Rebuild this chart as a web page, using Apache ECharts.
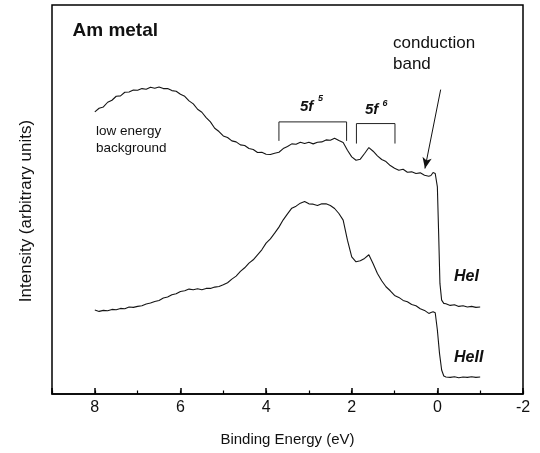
<!DOCTYPE html>
<html>
<head>
<meta charset="utf-8">
<script src="https://cdn.jsdelivr.net/npm/echarts@6/dist/echarts.min.js"></script>
<style>html,body{margin:0;padding:0;background:#fff;}#c{width:540px;height:453px;}</style>
</head>
<body>
<div id="c"></div>
<script>
// Binding energy (eV) samples and intensities (arbitrary units)
var heIEnergy = [8.0,7.9,7.8,7.7,7.6,7.5,7.4,7.3,7.2,7.1,7.0,6.9,6.8,6.7,6.6,6.5,6.4,6.3,6.2,6.1,6.0,5.9,5.8,5.7,5.6,5.5,5.4,5.3,5.2,5.1,5.0,4.9,4.8,4.7,4.6,4.5,4.4,4.3,4.2,4.1,4.0,3.9,3.8,3.7,3.6,3.5,3.4,3.3,3.2,3.1,3.0,2.9,2.8,2.7,2.6,2.5,2.4,2.3,2.2,2.1,2.0,1.9,1.8,1.7,1.6,1.5,1.4,1.3,1.2,1.1,1.0,0.9,0.8,0.7,0.6,0.5,0.4,0.3,0.2,0.15,0.1,0.05,0.0,-0.03,-0.06,-0.1,-0.15,-0.2,-0.3,-0.4,-0.5,-0.6,-0.7,-0.8,-0.9,-1.0];
var heIIntensity = [847,858,862,876,882,894,895,906,907,913,912,917,915,921,918,922,917,917,911,909,900,894,880,871,855,846,830,817,798,788,775,770,760,757,748,746,737,734,725,726,720,719,723,726,737,743,751,750,756,752,756,751,756,757,763,762,768,761,755,732,712,702,705,722,740,729,715,704,698,686,678,672,675,666,667,662,664,657,654,656,665,662,622,482,332,282,272,271,266,268,263,265,261,263,260,261];

var heIIEnergy = [8.0,7.9,7.8,7.7,7.6,7.5,7.4,7.3,7.2,7.1,7.0,6.9,6.8,6.7,6.6,6.5,6.4,6.3,6.2,6.1,6.0,5.9,5.8,5.7,5.6,5.5,5.4,5.3,5.2,5.1,5.0,4.9,4.8,4.7,4.6,4.5,4.4,4.3,4.2,4.1,4.0,3.9,3.8,3.7,3.6,3.5,3.4,3.3,3.2,3.1,3.0,2.9,2.8,2.7,2.6,2.5,2.4,2.3,2.2,2.1,2.0,1.9,1.8,1.7,1.6,1.5,1.4,1.3,1.2,1.1,1.0,0.9,0.8,0.7,0.6,0.5,0.4,0.3,0.2,0.15,0.1,0.05,0.0,-0.05,-0.1,-0.15,-0.2,-0.3,-0.4,-0.5,-0.6,-0.7,-0.8,-0.9,-1.0];
var heIIIntensity = [252,248,251,250,254,253,257,256,261,260,263,265,270,273,278,281,288,291,298,301,308,310,315,313,316,313,317,317,321,323,328,334,345,354,368,379,393,403,418,433,453,466,483,501,523,541,558,564,573,578,571,570,566,571,571,566,557,542,522,462,412,397,400,407,418,391,362,340,322,310,296,290,281,277,269,265,256,251,242,245,247,244,192,122,72,54,51,50,52,49,51,50,52,50,51];

// bracket annotations (energy, intensity)
var bracket5f5Energy = [3.70,3.70,2.12,2.12];
var bracket5f5Level  = [760,817,817,760];
var bracket5f6Energy = [1.89,1.89,0.99,0.99];
var bracket5f6Level  = [752,812,812,752];
// arrow pointing at conduction band (start, end)
var arrowEnergy = [-0.077, 0.29];
var arrowLevel  = [914, 677];

// axis ticks
var xMin = -2, xMax = 9, xMajor = 2, xMinor = 1;

function pairs(xs, ys){ var out=[]; for(var i=0;i<xs.length;i++){ out.push([xs[i], ys[i]]); } return out; }

var FONT = "'Liberation Sans', Arial, Helvetica, sans-serif";
var chart = echarts.init(document.getElementById('c'), null, {renderer:'canvas'});
var lineCol = '#151515';

function txt(x, y, text, font, align){
  return { type:'text', x:x, y:y, silent:true,
    style:{ text:text, font:font, fill:'#111', textAlign:align||'left', textVerticalAlign:'middle' } };
}

chart.setOption({
  animation:false,
  backgroundColor:'#fff',
  grid:{ left:52, right:17, top:5, bottom:59, show:true, borderColor:'#000', borderWidth:1.5, backgroundColor:'transparent' },
  xAxis:[{
    type:'value', min:xMin, max:xMax, inverse:true, interval:xMajor, position:'bottom',
    name:'Binding Energy (eV)', nameLocation:'middle', nameGap:38,
    nameTextStyle:{ fontFamily:FONT, fontSize:15, color:'#111' },
    axisLine:{ show:true, lineStyle:{ color:'#000', width:1.5 } },
    axisTick:{ show:true, inside:true, length:6, lineStyle:{ color:'#000', width:1.5 } },
    axisLabel:{ margin:6, fontFamily:FONT, fontSize:16, color:'#111',
      formatter:function(v){ return (v === xMax) ? '' : String(v); } },
    splitLine:{ show:false }
  },{
    type:'value', min:xMin, max:xMax, inverse:true, interval:xMinor, position:'bottom',
    axisLine:{ show:false },
    axisTick:{ show:true, inside:true, length:3.5, lineStyle:{ color:'#000', width:1.2 } },
    axisLabel:{ show:false }, splitLine:{ show:false }
  }],
  yAxis:{
    type:'value', min:0, max:1168,
    axisLine:{ show:false }, axisTick:{ show:false }, axisLabel:{ show:false }, splitLine:{ show:false }
  },
  series:[
    { name:'HeI', type:'line', data:pairs(heIEnergy, heIIntensity), showSymbol:false, symbol:'none',
      lineStyle:{ color:lineCol, width:1.1 }, silent:true,
      markLine:{ silent:true, symbol:['none','arrow'], symbolSize:[7,11], label:{show:false},
        lineStyle:{ color:'#111', width:1, type:'solid' },
        data:[[ {coord:[arrowEnergy[0], arrowLevel[0]]}, {coord:[arrowEnergy[1], arrowLevel[1]]} ]] } },
    { name:'HeII', type:'line', data:pairs(heIIEnergy, heIIIntensity), showSymbol:false, symbol:'none',
      lineStyle:{ color:lineCol, width:1.1 }, silent:true },
    { name:'5f5 bracket', type:'line', data:pairs(bracket5f5Energy, bracket5f5Level), showSymbol:false, symbol:'none',
      lineStyle:{ color:'#222', width:1 }, silent:true },
    { name:'5f6 bracket', type:'line', data:pairs(bracket5f6Energy, bracket5f6Level), showSymbol:false, symbol:'none',
      lineStyle:{ color:'#222', width:1 }, silent:true }
  ],
  graphic:[
    { type:'text', x:26, y:211, rotation:Math.PI/2, silent:true,
      style:{ text:'Intensity (arbitrary units)', font:'17px '+FONT, fill:'#111', textAlign:'center', textVerticalAlign:'middle' } },
    txt(72.5, 30.5, 'Am metal', 'bold 19px '+FONT),
    txt(393, 43.5, 'conduction', '17px '+FONT),
    txt(393, 64, 'band', '17px '+FONT),
    txt(96, 131, 'low energy', '13.5px '+FONT),
    txt(96, 148.5, 'background', '13.5px '+FONT),
    txt(300, 106.7, '5f', 'italic bold 15px '+FONT),
    txt(318, 99, '5', 'italic bold 9px '+FONT),
    txt(365, 109.5, '5f', 'italic bold 15px '+FONT),
    txt(382.5, 103.3, '6', 'italic bold 9px '+FONT),
    txt(454, 277, 'HeI', 'italic bold 16px '+FONT),
    txt(454, 358, 'HeII', 'italic bold 16px '+FONT)
  ]
});
</script>
</body>
</html>
